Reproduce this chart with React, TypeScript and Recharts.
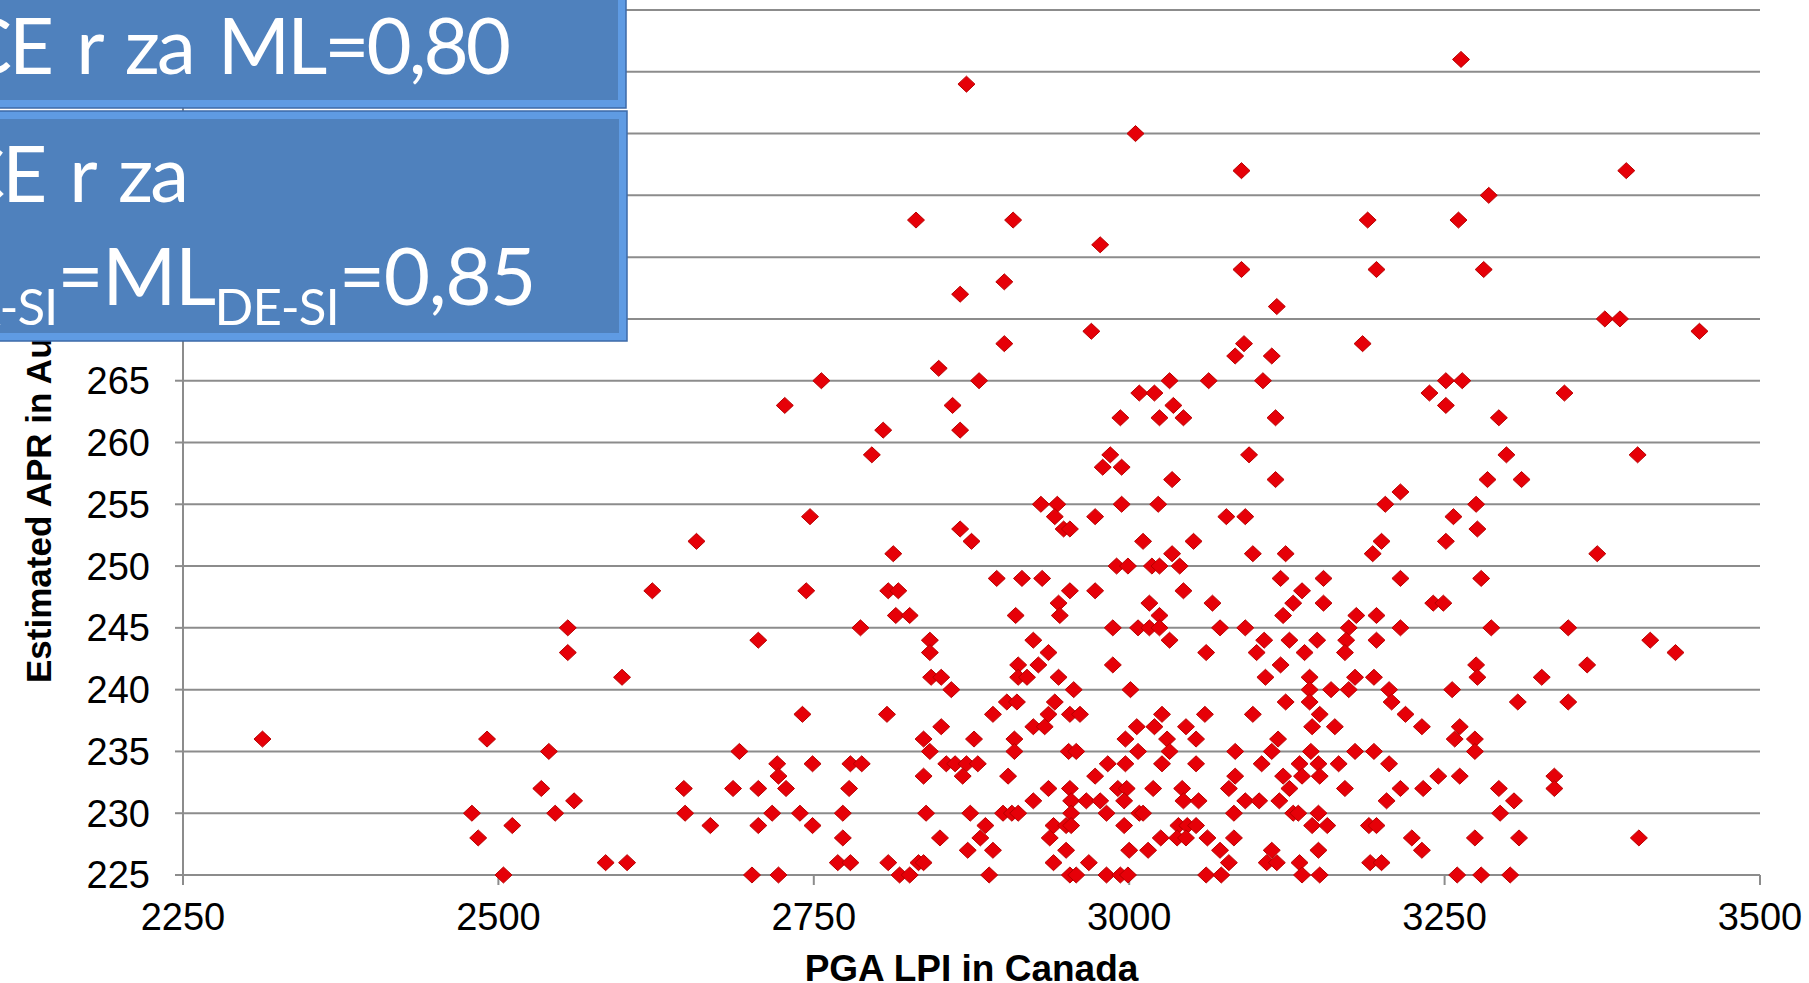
import { CartesianGrid, Scatter, ScatterChart, XAxis, YAxis } from "recharts";

// Estimated APR levels (integer steps) and the PGA LPI values plotted at each level
const aprLevels = [
  291, 289, 285, 282, 280, 278, 276, 274, 273, 272, 271, 270, 269, 268, 267, 266,
  265, 264, 263, 262, 261, 259, 258, 257, 256, 255, 254, 253, 252, 251, 250, 249,
  248, 247, 246, 245, 244, 243, 242, 241, 240, 239, 238, 237, 236, 235, 234, 233,
  232, 231, 230, 229, 228, 227, 226, 225,
];

const lpiByLevel = [
  [3263],
  [2871],
  [3005],
  [3089, 3394],
  [3285],
  [2831, 2908, 3189, 3261],
  [2977],
  [3089, 3196, 3281],
  [2901],
  [2866],
  [3117],
  [3377, 3389],
  [2970, 3452],
  [2901, 3091, 3185],
  [3084, 3113],
  [2849],
  [2756, 2881, 3032, 3063, 3106, 3251, 3264],
  [3008, 3020, 3238, 3345],
  [2727, 2860, 3035, 3251],
  [2993, 3024, 3043, 3116, 3293],
  [2805, 2866],
  [2796, 2985, 3095, 3299, 3403],
  [2979, 2994],
  [3034, 3116, 3284, 3311],
  [3215],
  [2930, 2943, 2994, 3023, 3203, 3275],
  [2747, 2941, 2973, 3077, 3092, 3257],
  [2866, 2948, 2953, 3276],
  [2657, 2875, 3011, 3051, 3200, 3251],
  [2813, 3034, 3098, 3124, 3193, 3371],
  [2990, 2999, 3018, 3024, 3040],
  [2895, 2915, 2931, 3120, 3154, 3215, 3279],
  [2622, 2744, 2809, 2817, 2953, 2973, 3043, 3137],
  [2944, 3016, 3066, 3130, 3154, 3241, 3249],
  [2815, 2826, 2910, 2945, 3024, 3122, 3180, 3196],
  [2555, 2787, 2987, 3007, 3016, 3024, 3072, 3092, 3174, 3215, 3287, 3348],
  [2706, 2842, 2924, 3032, 3107, 3127, 3149, 3172, 3196, 3413],
  [2555, 2842, 2936, 3061, 3101, 3139, 3171, 3433],
  [2912, 2928, 2987, 3120, 3275, 3363],
  [2598, 2843, 2851, 2912, 2919, 2944, 3108, 3143, 3179, 3194, 3276, 3327],
  [2859, 2956, 3001, 3143, 3160, 3174, 3206, 3256],
  [2903, 2911, 2941, 3124, 3143, 3208, 3308, 3348],
  [2741, 2808, 2892, 2936, 2953, 2961, 3026, 3060, 3098, 3151, 3219],
  [2851, 2924, 2933, 3006, 3020, 3045, 3145, 3163, 3232, 3262],
  [2313, 2491, 2837, 2877, 2909, 2997, 3030, 3053, 3118, 3258, 3274],
  [2540, 2691, 2842, 2909, 2952, 2958, 3007, 3032, 3084, 3113, 3144, 3179, 3194, 3274],
  [2721, 2749, 2779, 2788, 2855, 2862, 2871, 2880, 2983, 2997, 3026, 3053, 3105, 3135, 3150, 3166, 3206],
  [2722, 2837, 2868, 2904, 2973, 3084, 3122, 3137, 3151, 3245, 3262, 3337],
  [2534, 2647, 2686, 2706, 2728, 2778, 2936, 2953, 2991, 2998, 3019, 3042, 3079, 3127, 3171, 3215, 3233, 3293, 3337],
  [2560, 2924, 2954, 2966, 2977, 2996, 3043, 3055, 3092, 3103, 3119, 3204, 3305],
  [2479, 2545, 2648, 2717, 2739, 2773, 2839, 2874, 2900, 2907, 2912, 2954, 2982, 3008, 3011, 3083, 3130, 3134, 3150, 3294],
  [2511, 2668, 2706, 2749, 2886, 2940, 2950, 2954, 2996, 3039, 3046, 3053, 3145, 3157, 3190, 3196],
  [2484, 2773, 2850, 2882, 2937, 3025, 3038, 3045, 3062, 3083, 3224, 3274, 3309, 3404],
  [2872, 2892, 2950, 3000, 3015, 3072, 3113, 3150, 3232],
  [2585, 2602, 2769, 2779, 2809, 2833, 2837, 2940, 2968, 3079, 3109, 3117, 3135, 3191, 3200],
  [2504, 2701, 2722, 2818, 2826, 2889, 2953, 2958, 2982, 2993, 2999, 3061, 3073, 3137, 3151, 3260, 3279, 3302],
];

const xTicks = [2250, 2500, 2750, 3000, 3250, 3500];
const yTicks = [225, 230, 235, 240, 245, 250, 255, 260, 265, 270, 275, 280, 285, 290, 295];

const points = aprLevels.flatMap((apr, i) =>
  lpiByLevel[i].map((lpi) => ({ lpi, apr }))
);

const GRID = "#8c8c8c";
const AXIS_FONT = "'Liberation Sans', Arial, sans-serif";
const BOX_FONT = "Lato, 'Open Sans', sans-serif";

function Diamond(props: any) {
  const { cx, cy } = props;
  if (cx == null || cy == null) return null;
  return (
    <polygon
      points={`${cx},${cy - 8} ${cx + 8.5},${cy} ${cx},${cy + 8} ${cx - 8.5},${cy}`}
      fill="#e60008"
      stroke="#b80000"
      strokeWidth={1}
    />
  );
}

function YTitle() {
  return (
    <text
      x={51}
      y={683}
      transform="rotate(-90 51 683)"
      textAnchor="start"
      fontFamily={AXIS_FONT}
      fontWeight="bold"
      fontSize={35}
      fill="#000"
    >
      Estimated APR in Australia
    </text>
  );
}

function Boxes() {
  return (
    <svg
      width={1809}
      height={983}
      style={{ position: "absolute", left: 0, top: 0, pointerEvents: "none" }}
    >
      {/* upper box */}
      <rect x={-10} y={-10} width={636} height={118} fill="#5f9be3" stroke="#3c6aa8" strokeWidth={1.5} />
      <rect x={-10} y={-10} width={628} height={110} fill="#4f81bd" />
      <text
        x={508}
        y={74}
        textAnchor="end"
        fontFamily={BOX_FONT}
        fontSize={78}
        letterSpacing={-3}
        wordSpacing={8}
        fill="#fff"
      >
        CE r za ML=0,80
      </text>

      {/* lower box */}
      <rect x={-10} y={111} width={637} height={230} fill="#5f9be3" stroke="#3c6aa8" strokeWidth={1.5} />
      <rect x={-10} y={119} width={629} height={214} fill="#4f81bd" />
      <text
        x={186}
        y={202}
        textAnchor="end"
        fontFamily={BOX_FONT}
        fontSize={78}
        letterSpacing={-3}
        wordSpacing={8}
        fill="#fff"
      >
        CE r za
      </text>
      <text
        x={535}
        y={305}
        textAnchor="end"
        fontFamily={BOX_FONT}
        fontSize={80}
        letterSpacing={-1.5}
        fill="#fff"
      >
        ML
        <tspan fontSize={51} letterSpacing={-1} dy={20}>A-SI</tspan>
        <tspan dy={-20}>=ML</tspan>
        <tspan fontSize={51} letterSpacing={-1} dy={20}>DE-SI</tspan>
        <tspan dy={-20}>=0,85</tspan>
      </text>
    </svg>
  );
}

export default function App() {
  return (
    <div
      style={{
        position: "absolute",
        left: 0,
        top: 0,
        width: 1809,
        height: 983,
        background: "#fff",
        overflow: "hidden",
      }}
    >
      <ScatterChart
        width={1809}
        height={983}
        margin={{ top: 10, right: 49, bottom: 0, left: 0 }}
      >
        <CartesianGrid vertical={false} stroke={GRID} strokeWidth={2} />
        <XAxis
          type="number"
          dataKey="lpi"
          domain={[2250, 3500]}
          ticks={xTicks}
          interval={0}
          height={108}
          tickSize={10}
          tickMargin={18}
          stroke={GRID}
          strokeWidth={2}
          tick={{ fill: "#000", fontSize: 38, fontFamily: AXIS_FONT }}
          label={{
            value: "PGA LPI in Canada",
            position: "insideBottom",
            offset: 2,
            fill: "#000",
            fontSize: 37,
            fontWeight: "bold",
            fontFamily: AXIS_FONT,
          }}
        />
        <YAxis
          type="number"
          dataKey="apr"
          domain={[225, 295]}
          ticks={yTicks}
          interval={0}
          width={183}
          tickSize={8}
          tickMargin={25}
          stroke={GRID}
          strokeWidth={2}
          tick={{ fill: "#000", fontSize: 38, fontFamily: AXIS_FONT }}
          label={<YTitle />}
        />
        <Scatter
          data={points}
          shape={<Diamond />}
          isAnimationActive={false}
        />
      </ScatterChart>
      <Boxes />
    </div>
  );
}
